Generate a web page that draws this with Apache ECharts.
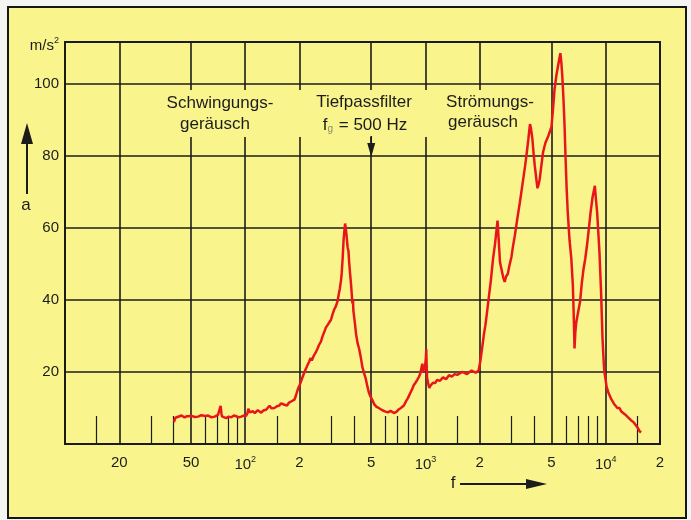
<!DOCTYPE html>
<html>
<head>
<meta charset="utf-8">
<script src="https://cdn.jsdelivr.net/npm/echarts@6/dist/echarts.min.js"></script>
<style>
  html, body { margin: 0; padding: 0; background: #f4f4f2; }
  #wrap { position: relative; width: 691px; height: 520px; overflow: hidden; }
  #panel { position: absolute; left: 7px; top: 6px; width: 676px; height: 509px;
           background: #f9f58c; border: 2px solid #161616; }
  #chart { position: absolute; left: 0; top: 0; width: 691px; height: 520px; }
</style>
</head>
<body>
<div id="wrap">
  <div id="panel"></div>
  <div id="chart"></div>
</div>
<script>
// Beschleunigungsspektrum: Frequenz f in Hz, Beschleunigung a in m/s²
const freq = [
  40.2, 41.0, 42.0, 44.3, 46.0, 47.5, 50.3, 52.5, 54.8, 57.0, 58.4, 60.0, 62.2, 65.0, 67.7, 70.6,
  72.2, 73.0, 73.8, 74.3, 76.5, 78.5, 81.0, 83.7, 86.5, 89.2, 92.0, 95.0, 98.0, 101, 103, 104,
  106, 110, 113, 117.5, 120, 122.6, 126, 130.6, 133, 136.3, 140, 145, 150, 154.7, 158, 161.6,
  165, 170.6, 175, 179.6, 184, 187.4, 191, 193.8, 197, 200, 204, 208, 213, 217, 222, 226.5,
  230, 234, 240, 247, 252, 257, 263, 268, 274, 280, 286, 292, 299, 305, 312, 318,
  325, 330, 335, 340, 343, 347, 351, 354, 358, 361, 365, 370, 374, 377, 382, 386,
  390, 393, 396, 398, 401, 406, 412, 420, 428, 437, 446, 456, 466, 475, 485, 495,
  507, 520, 535, 550, 564, 580, 600, 620, 640, 668, 690, 710, 730, 759, 780, 800,
  826, 845, 860, 880, 900, 919, 935, 950, 961, 970, 980, 990, 1000, 1005, 1010, 1015,
  1020, 1037, 1050, 1065, 1080, 1100, 1131, 1160, 1200, 1250, 1300, 1350, 1400, 1450, 1500, 1600,
  1700, 1800, 1900, 1970, 2010, 2060, 2110, 2150, 2200, 2240, 2300, 2370, 2430, 2480, 2510, 2545,
  2590, 2640, 2700, 2750, 2800, 2860, 2920, 3000, 3060, 3130, 3230, 3340, 3450, 3570, 3650, 3720,
  3800, 3850, 3920, 3980, 4040, 4110, 4180, 4240, 4300, 4400, 4490, 4620, 4800, 4900, 5000, 5100,
  5200, 5330, 5460, 5600, 5680, 5750, 5830, 5900, 5980, 6070, 6160, 6300, 6440, 6570, 6650, 6710,
  6780, 6850, 6920, 7050, 7200, 7360, 7530, 7700, 7870, 8050, 8240, 8450, 8700, 8820, 8960, 9100,
  9230, 9420, 9600, 9750, 9830, 10000, 10100, 10200, 10350, 10500, 10700, 10900, 11100, 11300, 11600, 11930,
  12200, 12500, 12800, 13000, 13300, 13500, 13800, 14000, 14300, 14600, 15000, 15400, 15700
];
const accel = [
  6.1, 7.3, 7.6, 7.9, 7.4, 7.7, 7.8, 7.5, 7.6, 8.0, 8.3, 7.8, 7.9, 7.4, 7.6, 8.1,
  8.6, 10.6, 8.4, 7.7, 7.4, 7.2, 7.6, 7.4, 7.9, 7.7, 7.4, 7.6, 7.9, 7.8, 8.6, 9.8,
  8.8, 9.1, 8.6, 9.4, 9.0, 8.7, 9.3, 9.5, 9.8, 10.6, 9.9, 10.0, 10.5, 10.7, 11.3, 11.6,
  10.9, 10.7, 11.5, 11.8, 12.0, 12.3, 13.4, 14.5, 15.6, 16.2, 17.4, 18.6, 19.9, 20.9, 22.0, 22.9,
  23.8, 23.2, 24.5, 25.6, 26.5, 27.6, 28.4, 29.8, 31.0, 32.3, 33.0, 33.4, 34.5, 36.0, 37.4, 38.2,
  39.6, 41.5, 43.2, 45.5, 47.5, 51.5, 56.5, 58.5, 61.2, 60.0, 57.8, 54.5, 53.5, 50.5, 47.0, 44.5,
  41.5, 39.0, 40.0, 37.0, 36.8, 33.5, 30.5, 28.0, 26.5, 24.2, 21.5, 19.7, 18.2, 16.2, 14.3, 13.2,
  12.2, 11.0, 10.3, 10.0, 9.6, 9.3, 9.0, 8.8, 9.2, 8.6, 8.9, 9.6, 10.0, 10.7, 11.9, 12.8,
  14.3, 15.3, 16.3, 17.0, 17.8, 18.6, 19.5, 21.2, 22.3, 20.0, 21.4, 20.5, 21.0, 24.0, 26.3, 22.0,
  18.5, 16.6, 15.6, 16.2, 15.8, 17.0, 16.9, 17.8, 17.5, 18.5, 18.0, 19.1, 18.7, 19.4, 19.2, 20.0,
  19.4, 20.4, 19.8, 20.4, 22.6, 26.5, 30.5, 33.0, 37.0, 40.3, 45.0, 51.4, 55.5, 59.5, 62.0, 57.0,
  50.5, 48.5, 46.2, 45.0, 46.5, 47.2, 49.5, 52.0, 55.0, 57.8, 62.5, 67.1, 72.0, 77.2, 81.0, 84.6,
  88.8, 87.5, 84.6, 80.5, 77.2, 74.0, 71.0, 72.0, 73.5, 77.5, 81.0, 83.5, 85.5, 86.0, 88.0, 93.0,
  98.5, 102.5, 105.5, 108.5, 105.5, 101.5, 95.5, 89.3, 80.0, 70.8, 64.0, 56.5, 51.5, 44.0, 35.0, 26.5,
  31.0, 33.5, 33.2, 37.0, 39.4, 44.5, 48.6, 51.5, 55.1, 59.5, 64.3, 68.5, 71.7, 68.0, 64.3, 58.5,
  53.2, 42.2, 29.2, 22.5, 20.0, 17.6, 16.0, 15.8, 14.2, 14.0, 12.6, 12.4, 11.2, 11.3, 10.0, 10.0,
  9.0, 9.3, 8.2, 8.4, 7.4, 7.6, 6.6, 6.8, 6.0, 5.8, 4.6, 3.6, 3.2
];

// Frequenzachse: durchgehende Gitterlinien, kurze Zwischenstriche, Beschriftung
const xGridValues = [10, 20, 50, 100, 200, 500, 1000, 2000, 5000, 10000, 20000];
const xMinorValues = [15, 30, 40, 60, 70, 80, 90, 150, 300, 400, 600, 700, 800, 900,
                      1500, 3000, 4000, 6000, 7000, 8000, 9000, 15000];
const xLabelValues = [20, 50, 100, 200, 500, 1000, 2000, 5000, 10000, 20000];
const xLabelTexts = ['20', '50', '10{s|2}', '2', '5', '10{s|3}', '2', '5', '10{s|4}', '2'];
const yLabelValues = [20, 40, 60, 80, 100];
const cutoffFreq = 500;

const FONT = "'Liberation Sans', Arial, Helvetica, sans-serif";
const INK = '#1c1c1c';
const yMax = 111.6;

const chart = echarts.init(document.getElementById('chart'), null, { renderer: 'canvas' });

const option = {
  backgroundColor: 'transparent',
  animation: false,
  grid: {
    left: 65, right: 31, top: 42, bottom: 76,
    show: true, borderColor: INK, borderWidth: 2, backgroundColor: 'transparent'
  },
  xAxis: [
    {
      type: 'log', logBase: 10, min: 10, max: 20000,
      axisLine: { show: false },
      axisTick: { show: false, customValues: xGridValues },
      splitLine: { show: true, lineStyle: { color: INK, width: 1.6 } },
      axisLabel: {
        customValues: xLabelValues,
        margin: 11,
        color: INK, fontFamily: FONT, fontSize: 15,
        formatter: function (v) {
          const i = xLabelValues.findIndex(x => Math.abs(x - v) / x < 1e-6);
          return i >= 0 ? xLabelTexts[i] : '';
        },
        rich: { s: { fontSize: 9, fontFamily: FONT, color: INK, padding: [0, 0, 11, 0] } }
      }
    },
    {
      type: 'log', logBase: 10, min: 10, max: 20000, position: 'bottom',
      axisLine: { show: false },
      axisTick: { show: true, inside: true, length: 28, customValues: xMinorValues,
                  lineStyle: { color: INK, width: 1.2 } },
      axisLabel: { show: false },
      splitLine: { show: false }
    }
  ],
  yAxis: {
    type: 'value', min: 0, max: yMax, interval: 20,
    axisLine: { show: false },
    axisTick: { show: false },
    splitLine: { show: true, lineStyle: { color: INK, width: 1.6 } },
    axisLabel: {
      margin: 6, color: INK, fontFamily: FONT, fontSize: 15,
      formatter: function (v) {
        if (v >= yMax - 0.01) return '{u|m/s}{s|2}';
        return yLabelValues.indexOf(v) >= 0 ? String(v) : '';
      },
      rich: {
        u: { fontSize: 15, fontFamily: FONT, color: INK, padding: [7, 0, 0, 0] },
        s: { fontSize: 9, fontFamily: FONT, color: INK, padding: [0, 0, 3, 0] }
      }
    }
  },
  series: [{
    type: 'line',
    xAxisIndex: 0,
    data: freq.map((f, i) => [f, accel[i]]),
    showSymbol: false,
    symbol: 'none',
    lineStyle: { color: '#e8161a', width: 2.5 },
    z: 5
  }]
};
chart.setOption(option);

// Beschriftungen, Pfeile und Aussparung im Gitter
const xc = chart.convertToPixel({ xAxisIndex: 0 }, cutoffFreq);
const LABEL_FONT = '17px ' + FONT;
const txt = (x, y, text) => ({
  type: 'text', z: 10,
  style: { x: x, y: y, text: text, fill: INK, font: LABEL_FONT,
           align: 'center', verticalAlign: 'middle' }
});

chart.setOption({
  graphic: [
    { type: 'rect', z: 1, shape: { x: 140, y: 90, width: 401, height: 47 },
      style: { fill: '#f9f58c' } },
    txt(220, 103, 'Schwingungs-'),
    txt(215, 124, 'geräusch'),
    txt(364, 102, 'Tiefpassfilter'),
    { type: 'text', z: 10,
      style: { x: 365, y: 125, text: '{a|f}{g|g}{a| = 500 Hz}', align: 'center', verticalAlign: 'middle',
               rich: { a: { fontSize: 17, fontFamily: FONT, fill: INK, color: INK },
                       g: { fontSize: 10, fontFamily: FONT, fill: '#8a8a70', color: '#8a8a70', padding: [8, 1, 0, 0] } } } },
    txt(490, 102, 'Strömungs-'),
    txt(483, 122, 'geräusch'),
    { type: 'line', z: 10, shape: { x1: xc, y1: 136, x2: xc, y2: 146 }, style: { stroke: INK, lineWidth: 1.6 } },
    { type: 'polygon', z: 10, shape: { points: [[xc - 4, 143], [xc + 4, 143], [xc, 157]] }, style: { fill: INK } },
    // Achse a
    { type: 'line', z: 10, shape: { x1: 27, y1: 194, x2: 27, y2: 140 }, style: { stroke: INK, lineWidth: 2 } },
    { type: 'polygon', z: 10, shape: { points: [[21, 144], [33, 144], [27, 123]] }, style: { fill: INK } },
    txt(26, 205, 'a'),
    // Achse f
    txt(453, 483, 'f'),
    { type: 'line', z: 10, shape: { x1: 460, y1: 484, x2: 530, y2: 484 }, style: { stroke: INK, lineWidth: 2 } },
    { type: 'polygon', z: 10, shape: { points: [[526, 479], [526, 489], [547, 484]] }, style: { fill: INK } }
  ]
});
</script>
</body>
</html>
